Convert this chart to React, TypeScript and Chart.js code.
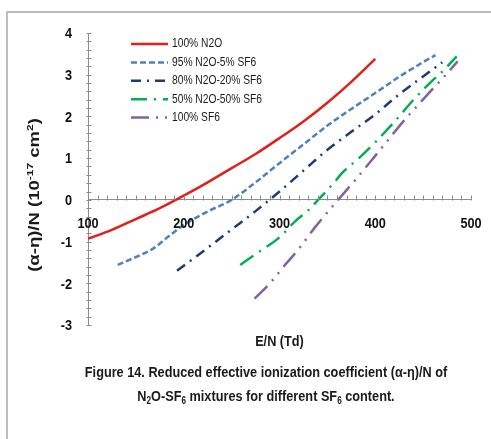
import React, { useEffect, useRef } from "react";
import { Chart, registerables } from "chart.js";

Chart.register(...registerables);

const FONT = "'Liberation Sans', Arial, sans-serif";
const SQUEEZE = 0.82; // the reference text is horizontally condensed

const seriesNames = ["100% N2O", "95% N2O-5% SF6", "80% N2O-20% SF6", "50% N2O-50% SF6", "100% SF6"];

const n2oE = [100, 125, 150, 175, 200, 225, 250, 275, 300, 325, 350, 375, 400];
const n2oV = [-0.93, -0.72, -0.46, -0.2, 0.1, 0.42, 0.76, 1.1, 1.48, 1.88, 2.33, 2.83, 3.38];

const mix95E = [131, 150, 168, 185, 200, 225, 250, 275, 300, 325, 350, 375, 400, 425, 450, 463];
const mix95V = [-1.56, -1.37, -1.17, -0.86, -0.6, -0.28, 0.0, 0.42, 0.88, 1.33, 1.78, 2.18, 2.56, 2.95, 3.3, 3.47];

const mix80E = [193, 200, 225, 250, 275, 300, 325, 350, 375, 400, 425, 450, 470];
const mix80V = [-1.7, -1.58, -1.15, -0.71, -0.27, 0.2, 0.7, 1.2, 1.63, 2.05, 2.53, 2.96, 3.3];

const mix50E = [259, 275, 300, 316, 330, 342, 355, 367, 383, 400, 420, 440, 457, 472, 485];
const mix50V = [-1.56, -1.3, -0.9, -0.52, -0.25, 0.04, 0.36, 0.68, 1.0, 1.38, 1.87, 2.4, 2.8, 3.12, 3.44];

const sf6E = [274, 290, 305, 320, 337, 350, 365, 380, 398, 415, 430, 445, 460, 473, 486];
const sf6V = [-2.37, -2.0, -1.58, -1.18, -0.66, -0.3, 0.1, 0.5, 1.0, 1.48, 1.9, 2.28, 2.66, 2.98, 3.32];

const xMin = 100, xMax = 500, xMajor = 100, xMinor = 10;
const yMin = -3, yMax = 4, yMajor = 1, yMinor = 0.2;

const colors = ["#e0201b", "#4f81bd", "#1f3b73", "#00b050", "#8064a2"];
const dashes: number[][] = [[], [6, 3], [10, 6, 2, 6], [16, 7, 2, 7], [18, 7, 2, 7, 2, 7]];

const xTitle = "E/N (Td)";
const captionLine1 = "Figure 14. Reduced effective ionization coefficient (α-η)/N of";

type Piece = { t: string; sup?: boolean; sub?: boolean };
const yTitlePieces: Piece[] = [
  { t: "(α-η)/N (10" },
  { t: "-17", sup: true },
  { t: " cm" },
  { t: "2", sup: true },
  { t: ")" },
];
const captionLine2: Piece[] = [
  { t: "N" },
  { t: "2", sub: true },
  { t: "O-SF" },
  { t: "6", sub: true },
  { t: " mixtures for different SF" },
  { t: "6", sub: true },
  { t: " content." },
];

function zip(e: number[], v: number[]) {
  return e.map((x, i) => ({ x, y: v[i] }));
}

function drawRich(ctx: CanvasRenderingContext2D, pieces: Piece[], size: number, small: number) {
  const big = `bold ${size}px ${FONT}`;
  const sm = `bold ${small}px ${FONT}`;
  let total = 0;
  for (const p of pieces) {
    ctx.font = p.sup || p.sub ? sm : big;
    total += ctx.measureText(p.t).width;
  }
  let x = -total / 2;
  ctx.textAlign = "left";
  ctx.textBaseline = "middle";
  for (const p of pieces) {
    ctx.font = p.sup || p.sub ? sm : big;
    const dy = p.sup ? -size * 0.33 : p.sub ? size * 0.28 : 0;
    ctx.fillText(p.t, x, dy);
    x += ctx.measureText(p.t).width;
  }
}

function squeezedText(
  ctx: CanvasRenderingContext2D,
  text: string,
  x: number,
  y: number,
  font: string,
  align: CanvasTextAlign
) {
  ctx.save();
  ctx.translate(x, y);
  ctx.scale(SQUEEZE, 1);
  ctx.font = font;
  ctx.textAlign = align;
  ctx.textBaseline = "middle";
  ctx.fillText(text, 0, 0);
  ctx.restore();
}

const decorPlugin = {
  id: "decor",
  afterDraw(chart: any) {
    const { ctx, chartArea, scales } = chart;
    const xs = scales.x;
    const ys = scales.y;
    ctx.save();
    // page frame
    ctx.strokeStyle = "#bdbdbd";
    ctx.lineWidth = 2;
    ctx.beginPath();
    ctx.moveTo(7, chart.height);
    ctx.lineTo(7, 12);
    ctx.lineTo(chart.width, 12);
    ctx.stroke();

    // tick marks
    ctx.strokeStyle = "#8c8c8c";
    ctx.lineWidth = 1;
    const yAxisPx = ys.getPixelForValue(0);
    const y0 = Math.round(yAxisPx) + 0.5;
    ctx.beginPath();
    for (let v = xMin; v <= xMax + 1e-9; v += xMinor) {
      const px = Math.round(xs.getPixelForValue(v)) + 0.5;
      ctx.moveTo(px, y0 - 5);
      ctx.lineTo(px, y0);
    }
    const x0 = Math.round(chartArea.left) + 0.5;
    const nY = Math.round((yMax - yMin) / yMinor);
    for (let k = 0; k <= nY; k++) {
      const v = yMin + k * yMinor;
      const py = Math.round(ys.getPixelForValue(v)) + 0.5;
      ctx.moveTo(x0 - 2, py);
      ctx.lineTo(x0 + 3, py);
    }
    ctx.stroke();

    // tick labels from the library's ticks
    ctx.fillStyle = "#111";
    const tickFont = `bold 15.5px ${FONT}`;
    xs.ticks.forEach((t: any) => {
      squeezedText(ctx, String(t.value), xs.getPixelForValue(t.value), yAxisPx + 24, tickFont, "center");
    });
    ys.ticks.forEach((t: any) => {
      squeezedText(ctx, String(t.value), chartArea.left - 16, ys.getPixelForValue(t.value) + 1, tickFont, "right");
    });

    // legend
    const lx = chartArea.left + 43;
    const ly = chartArea.top + 11;
    chart.data.datasets.forEach((ds: any, i: number) => {
      const yy = ly + i * 18.4;
      ctx.strokeStyle = ds.borderColor;
      ctx.lineWidth = ds.borderWidth;
      ctx.setLineDash(ds.borderDash || []);
      ctx.beginPath();
      ctx.moveTo(lx, yy);
      ctx.lineTo(lx + 37, yy);
      ctx.stroke();
      ctx.setLineDash([]);
      ctx.fillStyle = "#1a1a1a";
      squeezedText(ctx, ds.label, lx + 41, yy, `12.5px ${FONT}`, "left");
    });

    // axis titles
    ctx.fillStyle = "#1a1a1a";
    squeezedText(ctx, xTitle, (chartArea.left + chartArea.right) / 2, chartArea.bottom + 17, `bold 15.5px ${FONT}`, "center");

    ctx.save();
    ctx.translate(35, chartArea.top + 162);
    ctx.rotate(-Math.PI / 2);
    ctx.scale(1, SQUEEZE);
    drawRich(ctx, yTitlePieces, 18.5, 12);
    ctx.restore();

    // caption
    ctx.fillStyle = "#1a1a1a";
    squeezedText(ctx, captionLine1, 266, 373, `bold 15.5px ${FONT}`, "center");
    ctx.save();
    ctx.translate(266, 397);
    ctx.scale(SQUEEZE, 1);
    drawRich(ctx, captionLine2, 15.5, 10);
    ctx.restore();

    ctx.restore();
  },
};

export default function App() {
  const ref = useRef<HTMLCanvasElement>(null);
  useEffect(() => {
    if (!ref.current) return;
    const datasetsRaw = [
      zip(n2oE, n2oV),
      zip(mix95E, mix95V),
      zip(mix80E, mix80V),
      zip(mix50E, mix50V),
      zip(sf6E, sf6V),
    ];
    const chart = new Chart(ref.current, {
      type: "scatter",
      data: {
        datasets: datasetsRaw.map((d, i) => ({
          label: seriesNames[i],
          data: d,
          showLine: true,
          borderColor: colors[i],
          backgroundColor: colors[i],
          borderWidth: 2.5,
          borderDash: dashes[i],
          pointRadius: 0,
          cubicInterpolationMode: "monotone",
        })),
      },
      options: {
        animation: false,
        responsive: false,
        maintainAspectRatio: false,
        devicePixelRatio: 1,
        layout: { padding: { left: 0, top: 33, right: 20, bottom: 114 } },
        plugins: { legend: { display: false }, tooltip: { enabled: false } },
        scales: {
          x: {
            type: "linear",
            position: { y: 0 } as any,
            min: xMin,
            max: xMax,
            ticks: { stepSize: xMajor, display: false, autoSkip: false },
            grid: { display: false, drawTicks: false },
            border: { display: true, color: "#8c8c8c", width: 1 },
          },
          y: {
            type: "linear",
            min: yMin,
            max: yMax,
            afterFit: (s: any) => {
              s.width = 88;
            },
            ticks: { stepSize: yMajor, display: false, autoSkip: false },
            grid: { display: false, drawTicks: false },
            border: { display: true, color: "#8c8c8c", width: 1 },
          },
        },
      },
      plugins: [decorPlugin],
    });
    return () => chart.destroy();
  }, []);
  return (
    <div style={{ position: "fixed", left: 0, top: 0, width: 491, height: 439, background: "#fff" }}>
      <canvas ref={ref} width={491} height={439} style={{ display: "block", width: 491, height: 439 }} />
    </div>
  );
}
